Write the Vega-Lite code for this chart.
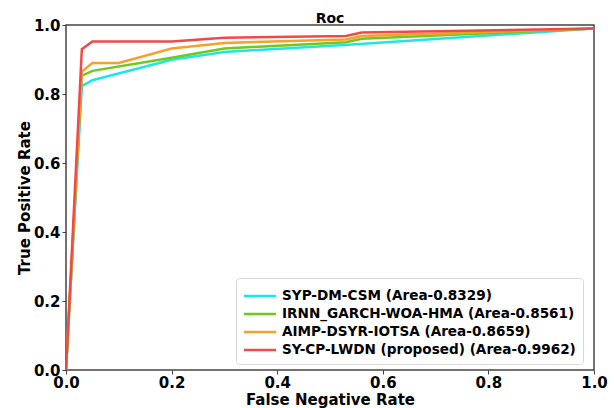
{
  "$schema": "https://vega.github.io/schema/vega-lite/v6.json",
  "width": 528,
  "height": 345,
  "autosize": {"type": "none"},
  "padding": {"left": 66, "top": 25, "right": 20, "bottom": 38},
  "background": "white",
  "title": {"text": "Roc", "font": "DejaVu Sans", "fontSize": 14, "fontWeight": "bold", "color": "#000000", "offset": 2, "dy": 10},
  "config": {
    "view": {"stroke": "#444444", "strokeWidth": 1.5},
    "font": "DejaVu Sans",
    "axis": {
      "grid": false,
      "domain": false,
      "labelFlush": false,
      "tickColor": "#444444",
      "tickSize": 4,
      "tickWidth": 1,
      "labelFont": "DejaVu Sans",
      "labelFontSize": 15,
      "labelFontWeight": "bold",
      "labelColor": "#000000",
      "titleFont": "DejaVu Sans",
      "titleFontSize": 15,
      "titleFontWeight": "bold",
      "titleColor": "#000000"
    }
  },
  "data": {
    "values": [
      {"s": "SYP-DM-CSM (Area-0.8329)", "o": 1, "x": 0, "y": 0},
      {"s": "SYP-DM-CSM (Area-0.8329)", "o": 1, "x": 0.03, "y": 0.823},
      {"s": "SYP-DM-CSM (Area-0.8329)", "o": 1, "x": 0.05, "y": 0.84},
      {"s": "SYP-DM-CSM (Area-0.8329)", "o": 1, "x": 0.2, "y": 0.899},
      {"s": "SYP-DM-CSM (Area-0.8329)", "o": 1, "x": 0.3, "y": 0.922},
      {"s": "SYP-DM-CSM (Area-0.8329)", "o": 1, "x": 0.55, "y": 0.944},
      {"s": "SYP-DM-CSM (Area-0.8329)", "o": 1, "x": 1, "y": 0.99},
      {"s": "IRNN_GARCH-WOA-HMA (Area-0.8561)", "o": 2, "x": 0, "y": 0},
      {"s": "IRNN_GARCH-WOA-HMA (Area-0.8561)", "o": 2, "x": 0.03, "y": 0.853},
      {"s": "IRNN_GARCH-WOA-HMA (Area-0.8561)", "o": 2, "x": 0.05, "y": 0.867},
      {"s": "IRNN_GARCH-WOA-HMA (Area-0.8561)", "o": 2, "x": 0.2, "y": 0.905},
      {"s": "IRNN_GARCH-WOA-HMA (Area-0.8561)", "o": 2, "x": 0.3, "y": 0.932},
      {"s": "IRNN_GARCH-WOA-HMA (Area-0.8561)", "o": 2, "x": 0.53, "y": 0.95},
      {"s": "IRNN_GARCH-WOA-HMA (Area-0.8561)", "o": 2, "x": 0.56, "y": 0.96},
      {"s": "IRNN_GARCH-WOA-HMA (Area-0.8561)", "o": 2, "x": 1, "y": 0.99},
      {"s": "AIMP-DSYR-IOTSA (Area-0.8659)", "o": 3, "x": 0, "y": 0},
      {"s": "AIMP-DSYR-IOTSA (Area-0.8659)", "o": 3, "x": 0.03, "y": 0.865},
      {"s": "AIMP-DSYR-IOTSA (Area-0.8659)", "o": 3, "x": 0.05, "y": 0.89},
      {"s": "AIMP-DSYR-IOTSA (Area-0.8659)", "o": 3, "x": 0.1, "y": 0.89},
      {"s": "AIMP-DSYR-IOTSA (Area-0.8659)", "o": 3, "x": 0.2, "y": 0.932},
      {"s": "AIMP-DSYR-IOTSA (Area-0.8659)", "o": 3, "x": 0.3, "y": 0.948},
      {"s": "AIMP-DSYR-IOTSA (Area-0.8659)", "o": 3, "x": 0.53, "y": 0.958},
      {"s": "AIMP-DSYR-IOTSA (Area-0.8659)", "o": 3, "x": 0.56, "y": 0.968},
      {"s": "AIMP-DSYR-IOTSA (Area-0.8659)", "o": 3, "x": 1, "y": 0.99},
      {"s": "SY-CP-LWDN (proposed) (Area-0.9962)", "o": 4, "x": 0, "y": 0},
      {"s": "SY-CP-LWDN (proposed) (Area-0.9962)", "o": 4, "x": 0.03, "y": 0.93},
      {"s": "SY-CP-LWDN (proposed) (Area-0.9962)", "o": 4, "x": 0.05, "y": 0.952},
      {"s": "SY-CP-LWDN (proposed) (Area-0.9962)", "o": 4, "x": 0.2, "y": 0.952},
      {"s": "SY-CP-LWDN (proposed) (Area-0.9962)", "o": 4, "x": 0.3, "y": 0.963},
      {"s": "SY-CP-LWDN (proposed) (Area-0.9962)", "o": 4, "x": 0.53, "y": 0.968},
      {"s": "SY-CP-LWDN (proposed) (Area-0.9962)", "o": 4, "x": 0.56, "y": 0.978},
      {"s": "SY-CP-LWDN (proposed) (Area-0.9962)", "o": 4, "x": 1, "y": 0.99}
    ]
  },
  "mark": {"type": "line", "strokeWidth": 2.5, "clip": true},
  "encoding": {
    "x": {
      "field": "x", "type": "quantitative",
      "scale": {"domain": [0, 1], "nice": false},
      "axis": {"values": [0, 0.2, 0.4, 0.6, 0.8, 1.0], "format": ".1f", "title": "False Negative Rate", "titlePadding": 2, "labelPadding": 1}
    },
    "y": {
      "field": "y", "type": "quantitative",
      "scale": {"domain": [0, 1], "nice": false},
      "axis": {"values": [0, 0.2, 0.4, 0.6, 0.8, 1.0], "format": ".1f", "title": "True Positive Rate", "titlePadding": 1, "labelPadding": 2}
    },
    "color": {
      "field": "s", "type": "nominal",
      "scale": {
        "domain": ["SYP-DM-CSM (Area-0.8329)", "IRNN_GARCH-WOA-HMA (Area-0.8561)", "AIMP-DSYR-IOTSA (Area-0.8659)", "SY-CP-LWDN (proposed) (Area-0.9962)"],
        "range": ["#1ee6e6", "#6cc91e", "#f7a02a", "#ef4a4a"]
      },
      "legend": {
        "title": null,
        "orient": "none",
        "legendX": 170,
        "legendY": 253,
        "symbolType": "M-1.7,0H1.7",
        "symbolSize": 361,
        "symbolStrokeWidth": 2.5,
        "symbolOffset": 6,
        "labelFont": "DejaVu Sans",
        "labelFontSize": 13.6,
        "labelFontWeight": "bold",
        "labelColor": "#000000",
        "labelLimit": 400,
        "labelOffset": 11,
        "rowPadding": 0,
        "padding": 7,
        "strokeColor": "#d8d8d8",
        "fillColor": "white",
        "cornerRadius": 3
      }
    },
    "order": {"field": "o"}
  }
}
